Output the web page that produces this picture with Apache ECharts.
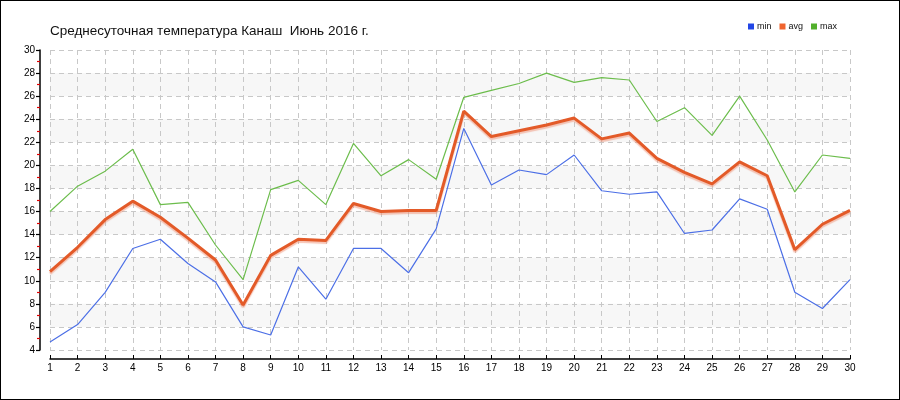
<!DOCTYPE html>
<html>
<head>
<meta charset="utf-8">
<script src="https://cdn.jsdelivr.net/npm/echarts@6/dist/echarts.min.js"></script>
<style>
  html, body { margin: 0; padding: 0; background: #fff; }
  .wrap { position: relative; width: 900px; height: 400px; }
  #chart { width: 900px; height: 400px; }
  .frame {
    position: absolute; left: 0; top: 0; right: 0; bottom: 0;
    border: 1px solid #000; pointer-events: none;
  }
</style>
</head>
<body>
<div class="wrap">
  <div id="chart"></div>
  <div class="frame"></div>
</div>
<script>
// дни месяца
const days = Array.from({ length: 30 }, (_, i) => String(i + 1))

const minTemp = [4.7, 6.2, 9.0, 12.8, 13.6, 11.5, 9.9, 6.0, 5.3, 11.2,
  8.4, 12.8, 12.8, 10.7, 14.5, 23.2, 18.3, 19.6, 19.2, 20.9,
  17.8, 17.5, 17.7, 14.1, 14.4, 17.1, 16.2, 9.0, 7.6, 10.1]

const avgTemp = [10.8, 12.9, 15.3, 16.9, 15.5, 13.7, 11.8, 7.9, 12.2, 13.6,
  13.5, 16.7, 16.0, 16.1, 16.1, 24.7, 22.5, 23.0, 23.5, 24.1,
  22.3, 22.8, 20.6, 19.4, 18.4, 20.3, 19.1, 12.7, 14.9, 16.1]

const maxTemp = [16.0, 18.2, 19.5, 21.4, 16.6, 16.8, 13.1, 10.1, 17.9, 18.7,
  16.6, 21.9, 19.1, 20.5, 18.8, 25.9, 26.5, 27.1, 28.0, 27.2,
  27.6, 27.4, 23.8, 25.0, 22.6, 26.0, 22.2, 17.7, 20.9, 20.6]

const chart = echarts.init(document.getElementById('chart'))

const gridLine = { show: true, lineStyle: { color: '#c8c8c8', type: [5, 4], width: 1 } }

const option = {
  animation: false,
  textStyle: { fontFamily: 'Liberation Sans, Arial, sans-serif' },
  title: {
    text: 'Среднесуточная температура Канаш  Июнь 2016 г.',
    left: 45,
    top: 19,
    textStyle: { fontSize: 13.5, fontWeight: 'normal', color: '#111' }
  },
  legend: {
    data: ['min', 'avg', 'max'],
    right: 58,
    top: 17,
    icon: 'rect',
    itemWidth: 6,
    itemHeight: 6,
    itemGap: 8,
    textStyle: { fontSize: 9, color: '#111', padding: [0, 0, 0, -2] }
  },
  grid: {
    left: 50,
    right: 50,
    top: 50,
    bottom: 50,
    containLabel: false
  },
  xAxis: {
    type: 'category',
    data: days,
    boundaryGap: false,
    offset: 9,
    axisLine: { show: true, onZero: false, lineStyle: { color: '#000', width: 1.5 } },
    axisTick: { inside: true, length: 4, lineStyle: { color: '#000' }, alignWithLabel: true },
    axisLabel: { color: '#000', fontSize: 10, margin: 4, interval: 0 },
    splitLine: gridLine
  },
  yAxis: {
    type: 'value',
    min: 4,
    max: 30,
    interval: 2,
    offset: 10,
    axisLine: { show: true, onZero: false, lineStyle: { color: '#000', width: 1.5 } },
    axisTick: { show: true, length: 4, lineStyle: { color: '#000', width: 1.2 } },
    minorTick: { show: true, splitNumber: 2, length: 3, lineStyle: { color: '#e00000', width: 1.2 } },
    axisLabel: { color: '#000', fontSize: 10, margin: 5 },
    splitLine: gridLine,
    splitArea: { show: true, areaStyle: { color: ['rgba(255,255,255,0)', '#f7f7f7'] } }
  },
  series: [
    {
      name: 'min',
      type: 'line',
      data: minTemp,
      symbol: 'none',
      lineStyle: { color: '#4c6fe6', width: 1.2 },
      itemStyle: { color: '#2246e6' },
      z: 3
    },
    {
      name: 'avg',
      type: 'line',
      data: avgTemp,
      symbol: 'none',
      lineStyle: {
        color: '#e35a28',
        width: 3,
        shadowColor: 'rgba(240,140,110,0.5)',
        shadowOffsetY: 2,
        shadowOffsetX: 0,
        shadowBlur: 1
      },
      itemStyle: { color: '#f0642e' },
      z: 4
    },
    {
      name: 'max',
      type: 'line',
      data: maxTemp,
      symbol: 'none',
      lineStyle: { color: '#6cbd4c', width: 1.2 },
      itemStyle: { color: '#52b02c' },
      z: 3
    }
  ]
}

chart.setOption(option)
</script>
</body>
</html>
